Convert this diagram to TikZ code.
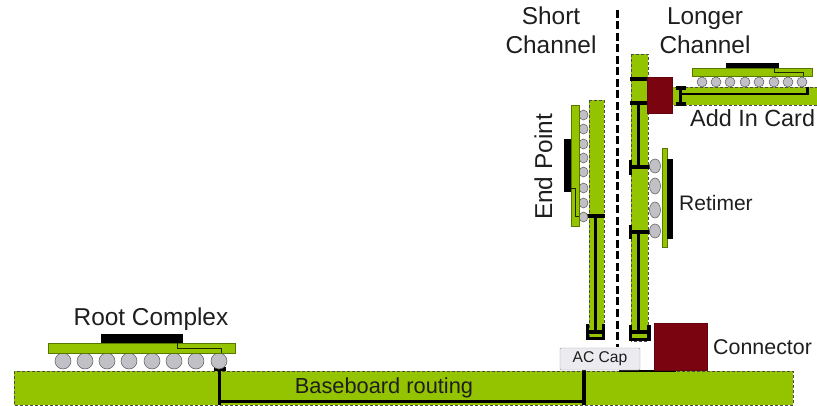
\documentclass[tikz,border=0pt]{standalone}
\usepackage{fontspec}
\setmainfont{Liberation Sans}
\definecolor{pcbgreen}{RGB}{148,196,0}
\definecolor{connred}{RGB}{122,4,16}
\definecolor{ballgray}{RGB}{192,192,198}
\definecolor{capgray}{RGB}{236,236,240}
\definecolor{textgray}{RGB}{30,30,30}
\begin{document}
\begin{tikzpicture}[x=1pt,y=-1pt,
    board/.style={draw=black!70, densely dashed, line width=0.4pt, fill=pcbgreen},
    substrate/.style={draw=pcbgreen!60!black, line width=0.4pt, fill=pcbgreen},
    die/.style={fill=black},
    conn/.style={draw=connred!80!black, line width=0.4pt, fill=connred},
    trace/.style={draw=black, line width=3.4pt},
    fine/.style={draw=black!80!pcbgreen, line width=0.9pt},
    ball/.style={draw=black!65, line width=0.5pt, fill=ballgray},
    label/.style={font=\fontsize{24.4}{29}\selectfont, text=textgray, inner sep=0pt, anchor=base},
    smalllabel/.style={font=\fontsize{21.8}{26}\selectfont, text=textgray, inner sep=0pt, anchor=base west}]
\useasboundingbox (0,0) rectangle (817,406);
% Baseboard
\draw[board] (14,371) rectangle (793,405);
\draw[trace] (219.5,370) -- (219.5,405);
\draw[trace] (584,370) -- (584,405);
\draw[trace] (219.5,401.5) -- (584,401.5);
\draw[trace] (214,369) -- (226,369);
\draw[trace, line width=2.4pt] (619,371) -- (676,371);
\node[label, font=\fontsize{21.8}{26}\selectfont] (routing) at (384,393) {Baseboard routing};
% Root complex
\node[label] (root) at (151,325) {Root Complex};
\foreach \x in {63,85,107,129,152,174,196,219}
    \draw[ball] (\x,361) circle (8);
\draw[substrate] (48,343) rectangle (235,353);
\fill[die] (101,334) rectangle (183,343);
\draw[fine] (177,343) -- (177,348) -- (221,348) -- (221,353);
% Short channel card
\draw[board] (589,100) rectangle (604,339);
\draw[trace] (587,216) -- (605,216);
\draw[trace] (595.5,216) -- (595.5,332);
\draw[trace] (587.5,324) -- (587.5,340);
\draw[trace] (603.5,324) -- (603.5,340);
\draw[trace] (587,332) -- (605,332);
\draw[trace] (587,338.5) -- (605,338.5);
% End point
\foreach \y in {115,129,144,158,172,188,203,217}
    \draw[ball] (583.5,\y) ellipse (4.5 and 5);
\draw[substrate] (571,105) rectangle (579,226);
\fill[die] (564,139) rectangle (571,192);
\draw[fine] (571,188) -- (575,188) -- (575,216) -- (579,216);
\node[label, rotate=90] (endpoint) at (552,167) {End Point};
% Divider
\draw[line width=3pt, dash pattern=on 8pt off 3.5pt] (617,10) -- (617,347);
\node[label] (short) at (551,25) {Short};
\node[label] (shortb) at (551,54) {Channel};
\node[label] (longer) at (705,25) {Longer};
\node[label] (longerb) at (705,54) {Channel};
% Longer channel card
\draw[board] (631,54) rectangle (648,341);
\draw[trace] (630,79) -- (648,79);
\draw[trace] (630,103) -- (648,103);
\draw[trace] (638.5,103) -- (638.5,167);
\draw[trace] (629,167) -- (651,167);
\draw[trace] (630.5,160) -- (630.5,175);
\draw[trace] (629,232) -- (651,232);
\draw[trace] (630.5,225) -- (630.5,239);
\draw[trace] (638.5,232) -- (638.5,332);
\draw[trace] (630,332) -- (650,332);
\draw[trace] (630,339.5) -- (650,339.5);
\draw[trace] (630.5,325) -- (630.5,341);
\draw[trace] (649,325) -- (649,341);
% Retimer
\foreach \y/\ry in {166/7,186/8,210/8,231/7}
    \draw[ball] (655,\y) ellipse (5.5 and \ry);
\draw[substrate] (662,148) rectangle (667,247);
\fill[die] (667,159) rectangle (673,239);
\node[smalllabel, font=\fontsize{21}{25}\selectfont] (retimer) at (679,211) {Retimer};
% Add in card
\draw[board] (672,87) rectangle (817,105);
\draw[trace] (680.5,88) -- (680.5,104);
\draw[trace] (676,88) -- (686,88);
\draw[trace] (676,104) -- (686,104);
\draw[trace, line width=2.4pt] (681,94) -- (807.5,94) -- (807.5,87);
\foreach \x in {702,716,730,745,759,774,788,802}
    \draw[ball] (\x,82) circle (5);
\draw[substrate] (692,68) rectangle (812,76);
\fill[die] (726,63) rectangle (779,68);
\draw[fine] (774,68) -- (774,72) -- (803,72) -- (803,76);
\draw[conn] (647,77) rectangle (672,113);
\node[label, anchor=base west, font=\fontsize{23.4}{28}\selectfont] (addin) at (690,127) {Add In Card};
% Connector and AC cap
\draw[conn] (654,323) rectangle (707,370);
\node[smalllabel, font=\fontsize{21.4}{26}\selectfont] (connector) at (713,354) {Connector};
\node[draw=black!40, fill=capgray, rounded corners=1pt, minimum width=80pt, minimum height=22pt,
      inner sep=0pt, font=\fontsize{15.6}{18}\selectfont, text=textgray] (accap) at (600,359) {AC Cap};
\end{tikzpicture}
\end{document}
